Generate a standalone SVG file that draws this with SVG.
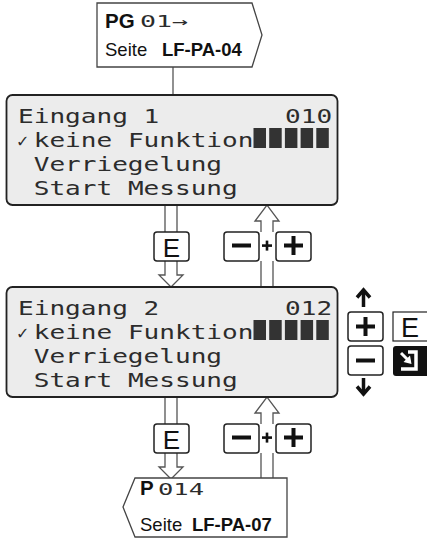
<svg xmlns="http://www.w3.org/2000/svg" width="427" height="540" viewBox="0 0 427 540">
<style>
.lcd{font-family:"DejaVu Sans Mono","Liberation Mono",monospace;font-size:19px;fill:#2c2c2c}
.lcds{font-family:"DejaVu Sans Mono","Liberation Mono",monospace;font-size:16px;fill:#2c2c2c}
.disp{fill:#ececec;stroke:#222;stroke-width:1.8}
.key{fill:#fff;stroke:#222;stroke-width:1.5}
.conn{fill:none;stroke:#555;stroke-width:1.3}
.page{fill:#fff;stroke:#444;stroke-width:1.3}
.lbl{font-family:"Liberation Sans",Arial,sans-serif;fill:#111}
.b{font-weight:bold}
.blk{fill:#333}
.sym{fill:#111}
</style>

<g id="connectors">
  <line class="conn" x1="173" y1="67" x2="173" y2="95"/>
  <path class="conn" d="M165,205 V232 M177,205 V232"/>
  <path class="conn" d="M165,261 V275 H159 L171,287 L183,275 H177 V261"/>
  <path class="conn" d="M261,287 V261 M273,287 V261"/>
  <path class="conn" d="M261,232 V221 H255 L267,205 L279,221 H273 V232"/>
  <path class="conn" d="M165,397 V424 M177,397 V424"/>
  <path class="conn" d="M165,453 V467 H159 L171,479 L183,467 H177 V453"/>
  <path class="conn" d="M261,478 V453 M273,478 V453"/>
  <path class="conn" d="M261,424 V413 H255 L267,397 L279,413 H273 V424"/>
</g>

<g id="page-top">
  <polygon class="page" points="97,3 252,3 262,35 252,67 97,67"/>
  <text class="lbl b" x="105" y="28" font-size="20.5">PG</text>
  <text class="lcds" x="140" y="27" textLength="48" lengthAdjust="spacingAndGlyphs">01→</text>
  <text class="lbl" x="105" y="56" font-size="18.5">Seite</text>
  <text class="lbl b" x="162" y="56" font-size="18.5">LF-PA-04</text>
</g>

<g id="display1">
  <rect class="disp" x="6.5" y="95" width="331" height="110" rx="6"/>
  <text class="lcd" x="18" y="123" textLength="141.3" lengthAdjust="spacingAndGlyphs">Eingang 1</text>
  <text class="lcd" x="285" y="123" textLength="47.1" lengthAdjust="spacingAndGlyphs">010</text>
  <text x="16" y="147" font-family="DejaVu Sans,sans-serif" font-size="16" fill="#2c2c2c">✓</text>
  <text class="lcd" x="33.7" y="147" textLength="219.8" lengthAdjust="spacingAndGlyphs">keine Funktion</text>
  <rect class="blk" x="253.5" y="128" width="12.5" height="20"/>
  <rect class="blk" x="269.2" y="128" width="12.5" height="20"/>
  <rect class="blk" x="284.9" y="128" width="12.5" height="20"/>
  <rect class="blk" x="300.6" y="128" width="12.5" height="20"/>
  <rect class="blk" x="316.3" y="128" width="12.5" height="20"/>
  <text class="lcd" x="33.7" y="171" textLength="188.4" lengthAdjust="spacingAndGlyphs">Verriegelung</text>
  <text class="lcd" x="33.7" y="195" textLength="204.1" lengthAdjust="spacingAndGlyphs">Start Messung</text>
</g>

<g id="keys1">
  <rect class="key" x="154" y="232" width="35" height="29" rx="3"/>
  <text class="lbl" x="171.5" y="256.5" font-size="26" text-anchor="middle">E</text>
  <rect class="key" x="224" y="232" width="35" height="29" rx="3"/>
  <rect class="sym" x="232" y="243.5" width="19" height="4"/>
  <rect class="sym" x="262" y="244.3" width="10" height="2.6"/>
  <rect class="sym" x="265.7" y="240.6" width="2.6" height="10"/>
  <rect class="key" x="276" y="232" width="35" height="29" rx="3"/>
  <rect class="sym" x="284" y="243.5" width="19" height="4"/>
  <rect class="sym" x="291.5" y="236" width="4" height="19"/>
</g>

<g id="display2">
  <rect class="disp" x="6.5" y="287" width="331" height="110" rx="6"/>
  <text class="lcd" x="18" y="315" textLength="141.3" lengthAdjust="spacingAndGlyphs">Eingang 2</text>
  <text class="lcd" x="285" y="315" textLength="47.1" lengthAdjust="spacingAndGlyphs">012</text>
  <text x="16" y="339" font-family="DejaVu Sans,sans-serif" font-size="16" fill="#2c2c2c">✓</text>
  <text class="lcd" x="33.7" y="339" textLength="219.8" lengthAdjust="spacingAndGlyphs">keine Funktion</text>
  <rect class="blk" x="253.5" y="320" width="12.5" height="20"/>
  <rect class="blk" x="269.2" y="320" width="12.5" height="20"/>
  <rect class="blk" x="284.9" y="320" width="12.5" height="20"/>
  <rect class="blk" x="300.6" y="320" width="12.5" height="20"/>
  <rect class="blk" x="316.3" y="320" width="12.5" height="20"/>
  <text class="lcd" x="33.7" y="363" textLength="188.4" lengthAdjust="spacingAndGlyphs">Verriegelung</text>
  <text class="lcd" x="33.7" y="387" textLength="204.1" lengthAdjust="spacingAndGlyphs">Start Messung</text>
</g>

<g id="keys2">
  <rect class="key" x="154" y="424" width="35" height="29" rx="3"/>
  <text class="lbl" x="171.5" y="448.5" font-size="26" text-anchor="middle">E</text>
  <rect class="key" x="224" y="424" width="35" height="29" rx="3"/>
  <rect class="sym" x="232" y="435.5" width="19" height="4"/>
  <rect class="sym" x="262" y="436.3" width="10" height="2.6"/>
  <rect class="sym" x="265.7" y="432.6" width="2.6" height="10"/>
  <rect class="key" x="276" y="424" width="35" height="29" rx="3"/>
  <rect class="sym" x="284" y="435.5" width="19" height="4"/>
  <rect class="sym" x="291.5" y="428" width="4" height="19"/>
</g>

<g id="page-bottom">
  <polygon class="page" points="135,478 287,478 287,537 135,537 123,507"/>
  <text class="lbl b" x="140" y="495" font-size="20.5">P</text>
  <text class="lcds" x="158" y="495" textLength="46" lengthAdjust="spacingAndGlyphs">014</text>
  <text class="lbl" x="140" y="531" font-size="18.5">Seite</text>
  <text class="lbl b" x="192" y="531" font-size="18.5">LF-PA-07</text>
</g>

<g id="legend">
  <path d="M363.5,307 V291" stroke="#111" stroke-width="3.5" fill="none"/>
  <path d="M357,297.5 L363.5,290 L370,297.5" stroke="#111" stroke-width="3.5" fill="none"/>
  <rect class="key" x="348" y="312" width="35" height="29" rx="3"/>
  <rect class="sym" x="356" y="324.5" width="19" height="4"/>
  <rect class="sym" x="363.5" y="317" width="4" height="19"/>
  <rect class="key" x="348" y="346" width="35" height="29" rx="3"/>
  <rect class="sym" x="356" y="358.5" width="19" height="4"/>
  <path d="M363.5,378 V393" stroke="#111" stroke-width="3.5" fill="none"/>
  <path d="M357,386.5 L363.5,394 L370,386.5" stroke="#111" stroke-width="3.5" fill="none"/>
  <rect x="393" y="312" width="36" height="29" fill="#fff" stroke="#222" stroke-width="1.2"/>
  <text class="lbl" x="410" y="337" font-size="27" text-anchor="middle">E</text>
  <rect x="393" y="346" width="36" height="30" rx="3" fill="#111"/>
  <path d="M408,352 H416 V369 H401" stroke="#fff" stroke-width="3.5" fill="none"/>
  <path d="M401,353 L409,361" stroke="#fff" stroke-width="3" fill="none"/>
  <polygon points="411.5,364 403.5,362 410,355.5" fill="#fff"/>
</g>
</svg>
